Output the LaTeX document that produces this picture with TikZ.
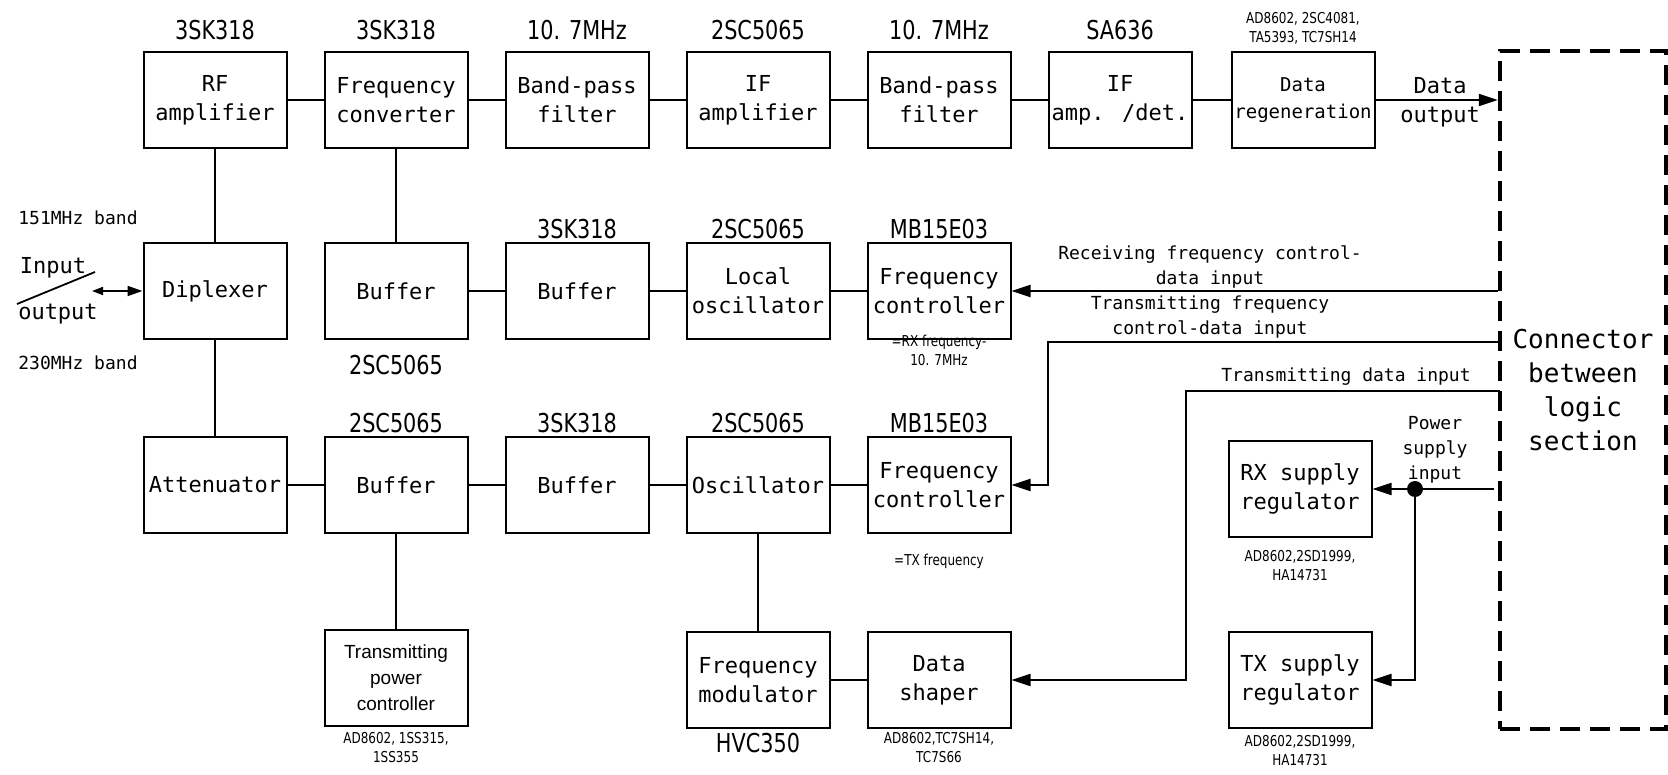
\documentclass[tikz,border=0pt]{standalone}
\usepackage{fontspec}
\setmainfont{DejaVu Sans Mono}
\newfontfamily\partfont[FakeStretch=0.8]{DejaVu Sans}
\newfontfamily\tpcfont{Liberation Sans}
\usetikzlibrary{arrows.meta}

\begin{document}
\begin{tikzpicture}[x=1pt,y=-1pt,
  blk/.style={draw,line width=2pt,minimum width=143pt,minimum height=96pt,inner sep=0pt,align=center,font=\fontsize{22}{29}\selectfont},
  part/.style={inner sep=0pt,font=\partfont\fontsize{26}{28}\selectfont},
  note/.style={inner sep=0pt,align=center,font=\partfont\fontsize{15}{19}\selectfont},
  lbl/.style={inner sep=0pt,align=center,font=\fontsize{18}{25}\selectfont},
  wire/.style={line width=1.8pt},
  sig/.style={wire,-{Triangle[length=19pt,width=12pt]}}]
\path[use as bounding box] (0,0) rectangle (1668,775);

% receiving chain
\node[blk] (rfamp) at (215,100) {RF\\amplifier};
\node[part] (rfampic) at (215,30) {3SK318};
\node[blk] (conv) at (396,100) {Frequency\\converter};
\node[part] (convic) at (396,30) {3SK318};
\node[blk] (bpfa) at (577,100) {Band-pass\\filter};
\node[part] (bpfaic) at (577,30) {10. 7MHz};
\node[blk] (ifamp) at (758,100) {IF\\amplifier};
\node[part] (ifampic) at (758,30) {2SC5065};
\node[blk] (bpfb) at (939,100) {Band-pass\\filter};
\node[part] (bpfbic) at (939,30) {10. 7MHz};
\node[blk] (ifdet) at (1120,100) {IF\\amp. /det.};
\node[part] (ifdetic) at (1120,30) {SA636};
\node[blk,font=\fontsize{19}{27}\selectfont] (regen) at (1303,100) {Data\\regeneration};
\node[note] (regenic) at (1303,28) {AD8602, 2SC4081,\\TA5393, TC7SH14};

% local oscillator chain
\node[blk] (dipl) at (215,291) {Diplexer};
\node[blk] (bufa) at (396,291) {Buffer};
\node[part] (bufaic) at (396,365) {2SC5065};
\node[blk] (bufb) at (577,291) {Buffer};
\node[part] (bufbic) at (577,229) {3SK318};
\node[blk] (lo) at (758,291) {Local\\oscillator};
\node[part] (loic) at (758,229) {2SC5065};
\node[blk] (fcrx) at (939,291) {Frequency\\controller};
\node[part] (fcrxic) at (939,229) {MB15E03};
\node[note] (fcrxnote) at (939,350) {=RX frequency-\\10. 7MHz};

% transmitting chain
\node[blk] (att) at (215,485) {Attenuator};
\node[blk] (bufc) at (396,485) {Buffer};
\node[part] (bufcic) at (396,423) {2SC5065};
\node[blk] (bufd) at (577,485) {Buffer};
\node[part] (bufdic) at (577,423) {3SK318};
\node[blk] (osc) at (758,485) {Oscillator};
\node[part] (oscic) at (758,423) {2SC5065};
\node[blk] (fctx) at (939,485) {Frequency\\controller};
\node[part] (fctxic) at (939,423) {MB15E03};
\node[note] (fctxnote) at (939,561) {=TX frequency};

\node[blk,font=\tpcfont\fontsize{19}{26}\selectfont] (tpc) at (396,678) {Transmitting\\power\\controller};
\node[note] (tpcic) at (396,748) {AD8602, 1SS315,\\1SS355};
\node[blk] (fm) at (758,680) {Frequency\\modulator};
\node[part] (fmic) at (758,743) {HVC350};
\node[blk] (shaper) at (939,680) {Data\\shaper};
\node[note] (shaperic) at (939,748) {AD8602,TC7SH14,\\TC7S66};

% power supply
\node[blk] (rxreg) at (1300,489) {RX supply\\regulator};
\node[note] (rxregic) at (1300,566) {AD8602,2SD1999,\\HA14731};
\node[blk] (txreg) at (1300,680) {TX supply\\regulator};
\node[note] (txregic) at (1300,751) {AD8602,2SD1999,\\HA14731};

% logic connector
\node[draw,line width=4.5pt,dash pattern=on 20pt off 10pt,minimum width=166pt,minimum height=678pt,align=center,font=\fontsize{26}{34}\selectfont] (conn) at (1583,390) {Connector\\between\\logic\\section};

% antenna side
\node[lbl] (band151) at (78,218) {151MHz band};
\node[lbl] (band230) at (78,363) {230MHz band};
\node[inner sep=0pt,font=\fontsize{22}{29}\selectfont] (inp) at (53,268) {Input};
\node[inner sep=0pt,font=\fontsize{22}{29}\selectfont] (outp) at (58,314) {output};
\coordinate (sla) at (17,304);
\coordinate (slb) at (95,272);
\draw[wire] (sla) -- (slb);
\coordinate (ioend) at (92,291);
\draw[wire,{Triangle[length=11pt,width=8pt]}-{Triangle[length=15pt,width=10pt]}] (ioend) -- (dipl.west);

% chains
\draw[wire] (rfamp) -- (conv);
\draw[wire] (conv) -- (bpfa);
\draw[wire] (bpfa) -- (ifamp);
\draw[wire] (ifamp) -- (bpfb);
\draw[wire] (bpfb) -- (ifdet);
\draw[wire] (ifdet) -- (regen);
\draw[wire] (rfamp) -- (dipl);
\draw[wire] (conv) -- (bufa);
\draw[wire] (bufa) -- (bufb);
\draw[wire] (bufb) -- (lo);
\draw[wire] (lo) -- (fcrx);
\draw[wire] (dipl) -- (att);
\draw[wire] (att) -- (bufc);
\draw[wire] (bufc) -- (bufd);
\draw[wire] (bufd) -- (osc);
\draw[wire] (osc) -- (fctx);
\draw[wire] (bufc) -- (tpc);
\draw[wire] (osc) -- (fm);
\draw[wire] (fm) -- (shaper);

% signals from and to the logic section
\draw[sig] (regen.east) -- (conn.west |- regen.east);
\node[inner sep=0pt,align=center,font=\fontsize{22}{29}\selectfont] (dout) at (1440,102) {Data\\output};
\draw[sig] (conn.west |- fcrx.east) -- (fcrx.east);
\node[lbl] (rxctl) at (1210,267) {Receiving frequency control-\\data input};
\coordinate (txctl) at (1500,342);
\draw[sig] (txctl) -- (1048,342) |- (fctx.east);
\node[lbl] (txctllbl) at (1210,317) {Transmitting frequency\\control-data input};
\coordinate (txdat) at (1500,391);
\draw[sig] (txdat) -- (1186,391) |- (shaper.east);
\node[lbl] (txdatlbl) at (1346,377) {Transmitting data input};

% power supply input
\coordinate (pwin) at (1494,489);
\node[circle,fill,inner sep=0pt,minimum size=16pt] (jn) at (1415,489) {};
\draw[wire] (pwin) -- (jn);
\draw[sig] (jn) -- (rxreg.east);
\draw[sig] (jn) |- (txreg.east);
\node[inner sep=0pt,align=center,font=\fontsize{18}{25}\selectfont] (pwlbl) at (1435,450) {Power\\supply\\input};
\end{tikzpicture}
\end{document}
